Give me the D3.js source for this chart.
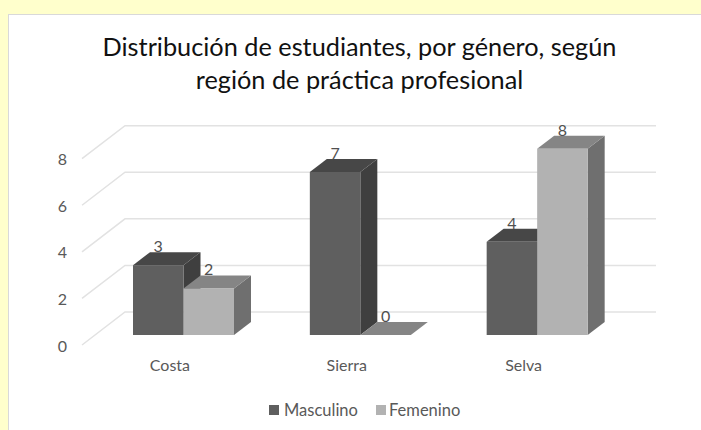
<!DOCTYPE html>
<html>
<head>
<meta charset="utf-8">
<script src="https://cdn.jsdelivr.net/npm/d3@7"></script>
<style>
html, body { margin: 0; padding: 0; background: #ffffcc; overflow: hidden; }
svg { display: block; }
text { font-family: Lato, "Noto Sans", sans-serif; }
</style>
</head>
<body>
<svg></svg>
<script>
const categories = ['Costa', 'Sierra', 'Selva'];
const seriesNames = ['Masculino', 'Femenino'];
const masculino = [3, 7, 4];
const femenino = [2, 0, 8];
const yTicks = [0, 2, 4, 6, 8];
const titleLines = ['Distribución de estudiantes, por género, según', 'región de práctica profesional'];

const width = 701,
	height = 430;

const svg = d3.select('svg')
	.attr('width', width)
	.attr('height', height);

const values = [masculino, femenino];

const colors = {
	Masculino: { front: '#5f5f5f', top: '#474747', side: '#3f3f3f' },
	Femenino: { front: '#b2b2b2', top: '#858585', side: '#6f6f6f' }
};

const textColor = '#595959',
	gridColor = '#e2e2e2',
	barDepth = { x: 17, y: 13 },
	wall = { frontX: 82, backX: 125, rightX: 656, frontDy: 10, backDy: -23 };

const xScale = d3.scaleBand()
	.domain(categories)
	.range([95, 625.5]);

const barScale = d3.scaleBand()
	.domain(seriesNames)
	.range([38, 139]);

const yScale = d3.scaleLinear()
	.domain([0, 8])
	.range([335, 148.7]);

// panel
svg.append('rect')
	.attr('x', 8.5)
	.attr('y', 14.5)
	.attr('width', width)
	.attr('height', height)
	.attr('fill', '#fff')
	.attr('stroke', '#d9d9d9');

// title
svg.append('g')
	.selectAll('text')
	.data(titleLines)
	.join('text')
	.attr('x', 359.5)
	.attr('y', (d, i) => 56 + i * 33)
	.attr('text-anchor', 'middle')
	.attr('font-size', 25.3)
	.attr('fill', '#111')
	.text(d => d);

// walls: grid lines run along the floor and then the back
const grid = svg.append('g')
	.attr('fill', 'none')
	.attr('stroke', gridColor)
	.attr('stroke-width', 1.5);

grid.selectAll('path')
	.data(yTicks)
	.join('path')
	.attr('d', d => d3.line()([
		[wall.frontX, yScale(d) + wall.frontDy],
		[wall.backX, yScale(d) + wall.backDy],
		[wall.rightX, yScale(d) + wall.backDy]
	]));

// y axis labels
const yAxis = d3.axisLeft(yScale)
	.tickValues(yTicks)
	.tickSize(0)
	.tickPadding(0);

const yAxisG = svg.append('g')
	.attr('transform', `translate(67, ${wall.frontDy + 1})`)
	.call(yAxis);

yAxisG.select('.domain').remove();
yAxisG.selectAll('text')
	.attr('font-family', null)
	.attr('font-size', 16)
	.attr('fill', textColor);

// x axis labels
const xAxis = d3.axisBottom(xScale)
	.tickSize(0)
	.tickPadding(0);

const xAxisG = svg.append('g')
	.attr('transform', 'translate(-13.5, 360)')
	.call(xAxis);

xAxisG.select('.domain').remove();
xAxisG.selectAll('text')
	.attr('font-family', null)
	.attr('font-size', 16)
	.attr('fill', textColor);

// bars
const bars = [];
categories.forEach((c, i) => {
	seriesNames.forEach((s, j) => {
		bars.push({ category: c, series: s, value: values[j][i] });
	});
});

const barG = svg.selectAll('.bar')
	.data(bars)
	.join('g')
	.attr('class', 'bar');

const barLeft = d => xScale(d.category) + barScale(d.series);
const poly = pts => d3.line()(pts) + 'Z';

barG.append('path')
	.attr('fill', d => colors[d.series].side)
	.attr('d', d => {
		const x = barLeft(d) + barScale.bandwidth(),
			y0 = yScale(0),
			y1 = yScale(d.value);
		return poly([[x, y0], [x, y1], [x + barDepth.x, y1 - barDepth.y], [x + barDepth.x, y0 - barDepth.y]]);
	});

barG.append('path')
	.attr('fill', d => colors[d.series].top)
	.attr('d', d => {
		const x = barLeft(d),
			w = barScale.bandwidth(),
			y1 = yScale(d.value);
		return poly([[x, y1], [x + barDepth.x, y1 - barDepth.y], [x + w + barDepth.x, y1 - barDepth.y], [x + w, y1]]);
	});

barG.append('rect')
	.attr('fill', d => colors[d.series].front)
	.attr('x', barLeft)
	.attr('y', d => yScale(d.value))
	.attr('width', barScale.bandwidth())
	.attr('height', d => yScale(0) - yScale(d.value));

// data labels sit on the back edge of the bar top
svg.append('g')
	.selectAll('text')
	.data(bars)
	.join('text')
	.attr('x', d => barLeft(d) + barScale.bandwidth() / 2)
	.attr('y', d => yScale(d.value) - barDepth.y)
	.attr('text-anchor', 'middle')
	.attr('font-size', 16)
	.attr('fill', '#505050')
	.text(d => d.value);

// legend
const legendX = [269, 376];
const legend = svg.selectAll('.legend')
	.data(seriesNames)
	.join('g')
	.attr('class', 'legend')
	.attr('transform', (d, i) => `translate(${legendX[i]}, 405)`);

legend.append('rect')
	.attr('width', 10)
	.attr('height', 10)
	.attr('fill', d => colors[d].front);

legend.append('text')
	.attr('x', (d, i) => i === 0 ? 15 : 13)
	.attr('y', 11)
	.attr('font-size', 16.5)
	.attr('fill', textColor)
	.text(d => d);
</script>
</body>
</html>
